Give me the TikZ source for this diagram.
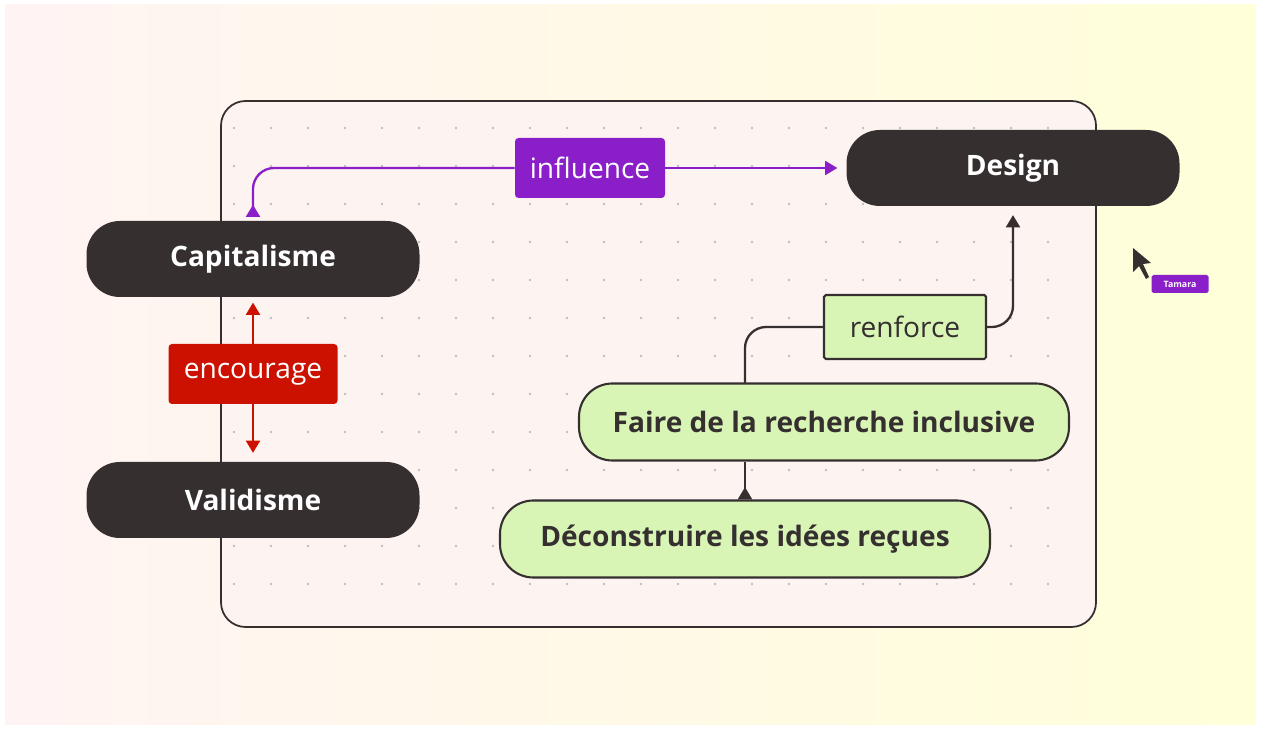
\documentclass[tikz,border=0pt]{standalone}
\usepackage{fontspec}
\setmainfont{Open Sans}
\usetikzlibrary{arrows.meta,positioning}
\definecolor{ink}{HTML}{352F30}
\definecolor{leaf}{HTML}{D9F5B5}
\definecolor{violet}{HTML}{8A1EC8}
\definecolor{alert}{HTML}{CC1100}
\definecolor{paper}{HTML}{FDF4F1}
\begin{document}
\begin{tikzpicture}[x=0.02cm,y=-0.02cm]
        \tikzstyle{topic}=[rounded corners=19pt,minimum width=333*0.02cm,minimum height=76*0.02cm,fill=ink,text=white,font=\fontsize{16}{18}\selectfont\bfseries]
        \tikzstyle{action}=[rounded corners=19pt,minimum width=490*0.02cm,minimum height=77*0.02cm,fill=leaf,draw=ink,line width=1.2pt,text=ink,font=\fontsize{16}{18}\selectfont\bfseries]
        \tikzstyle{tag}=[minimum height=60*0.02cm,inner xsep=4pt,rounded corners=2pt,font=\fontsize{16}{18}\selectfont]
        \tikzstyle{link}=[line width=1.3pt,rounded corners=12pt,-{Triangle[length=7pt,width=8pt]}]
       \useasboundingbox (0,0) rectangle (1261,732);
       \shade[left color=pink!18,right color=yellow!15] (5,5) rectangle (1256,724);
       \draw[ink,fill=paper,line width=1pt,rounded corners=14pt] (221,101) rectangle (1096,627);
       \foreach \x in {0,...,22} \foreach \y in {0,...,12}
         \fill[black!25] (234+37*\x,128+38*\y) circle (1.3);
       % nodes
       \node [topic] (cap) at (253,259) {Capitalisme};
       \node [topic] (val) at (253,500) {Validisme};
       \node [topic] (des) at (1013,168) {Design};
       \node [action] (faire) at (824,422) {Faire de la recherche inclusive};
       \node [action] (deco) at (745,539) {Déconstruire les idées reçues};
       \node [tag,fill=leaf,draw=ink,line width=1.2pt,text=ink,rounded corners=1pt,minimum width=162*0.02cm,minimum height=64*0.02cm] (renf) at (905,327) {renforce};
       \node [tag,fill=violet,text=white,minimum width=150*0.02cm] (infl) at (590,168) {influence};
       \node [tag,fill=alert,text=white,minimum width=169*0.02cm] (enc) at (253,374) {encourage};
       \coordinate (capt) at (253,217);
       \coordinate (rb) at (745,383);
       % links
       \draw[link,violet,{Triangle[reversed,length=7pt,width=8pt]}-] (capt) |- (infl.west);
       \draw[link,violet] (infl.east) -- ([xshift=-5pt]des.west);
       \draw[link,alert,{Triangle[length=7pt,width=8pt]}-] ([yshift=-3pt]cap.south) -- (enc);
       \draw[link,alert] (enc) -- ([yshift=5pt]val.north);
       \draw[link,ink,{Triangle[reversed,length=7pt,width=8pt]}-] (deco.north) -- ([xshift=-79*0.02cm]faire.south);
       \draw[line width=1.3pt,ink,rounded corners=12pt] (rb) |- (renf.west);
       \draw[link,ink] (renf.east) -| ([yshift=-5pt]des.south);
       % cursor
       \fill[ink] (1133,248) -- (1133,272) -- (1139,266) -- (1146,279) -- (1149,277) -- (1143,264) -- (1151,263) -- cycle;
       \node [fill=violet,text=white,font=\fontsize{5}{6}\selectfont\bfseries,rounded corners=1pt,minimum width=57*0.02cm,minimum height=18*0.02cm,inner sep=1pt] (tam) at (1180,284) {Tamara};
      \end{tikzpicture}
\end{document}
